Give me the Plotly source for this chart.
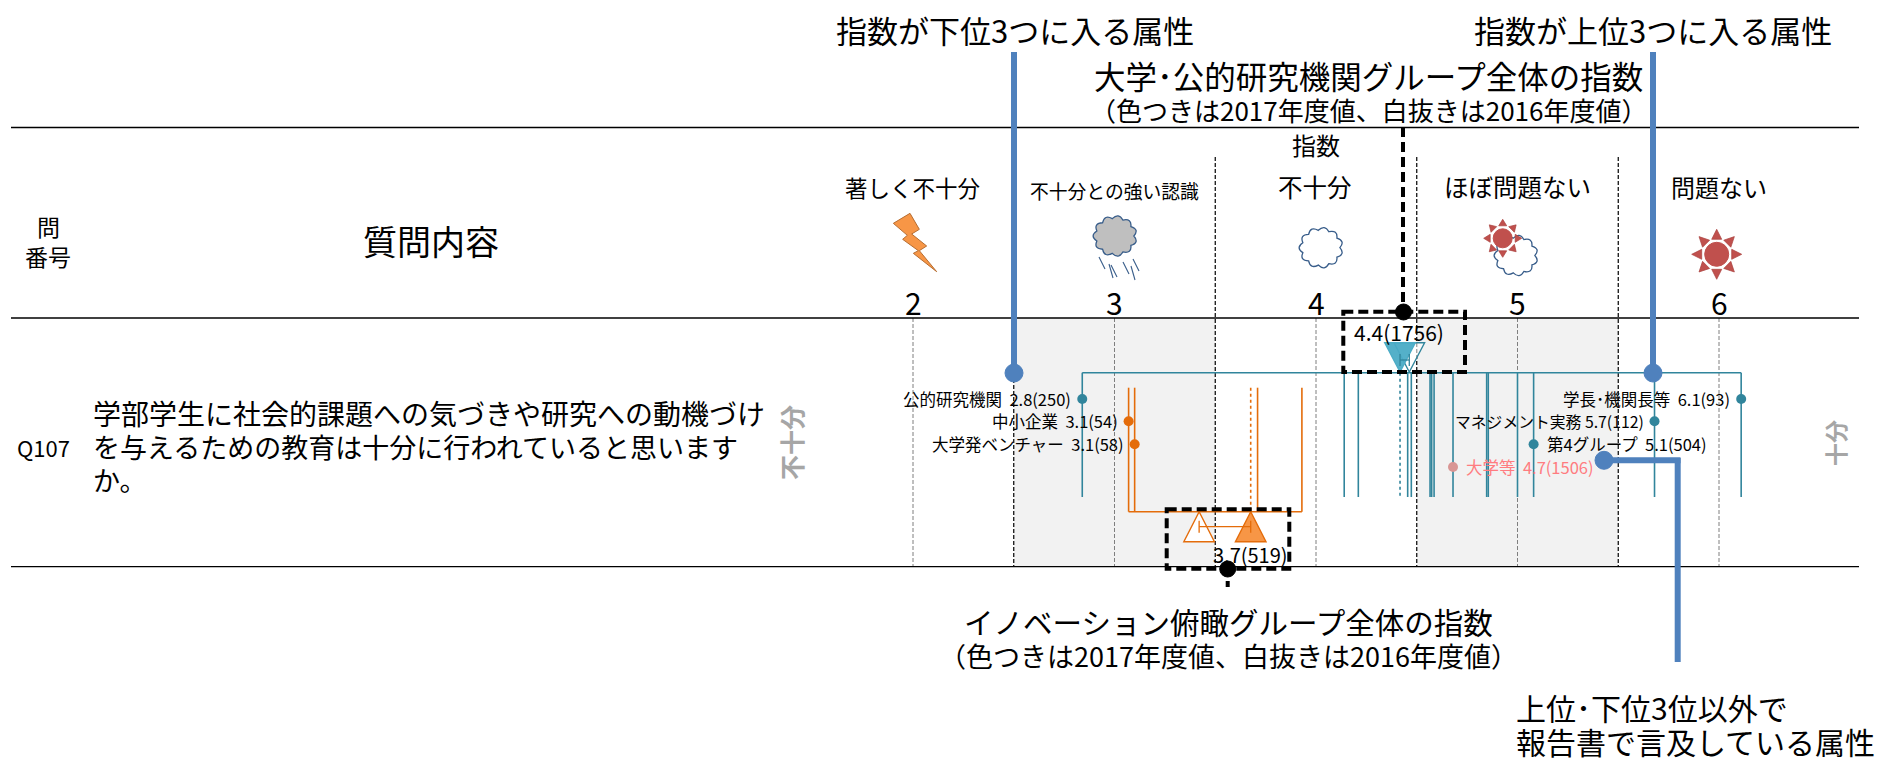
import math
import plotly.graph_objects as go

# the page body has an 8px margin, so the figure starts at screen (8, 8)
OFF = 8
W, H = 1879, 752
FONT = "Noto Sans CJK JP"

# scale ticks and band edges
tick_vals = [2, 3, 4, 5, 6]
band_edges = [2.5, 3.5, 4.5, 5.5]
shaded_bands = [(2.5, 3.5), (4.5, 5.5)]

# group 1 (teal): attribute values, dotted = group mean
teal_values = [2.84, 4.14, 4.21, 4.455, 4.473, 4.566, 4.574, 4.586, 4.68,
               4.847, 4.855, 5.0, 5.08, 5.68, 6.11]
teal_mean_2017 = 4.417
teal_mean_2016 = 4.463

# group 2 (orange)
orange_values = [3.07, 3.10, 3.71, 3.93]
orange_mean_2017 = 3.676
orange_mean_2016 = 3.42

# labelled attributes
teal_labels = ["公的研究機関  2.8(250)", "学長･機関長等  6.1(93)", "マネジメント実務 5.7(112)", "第4グループ  5.1(504)"]
teal_label_x = [2.84, 6.11, 5.68, 5.08]
orange_labels = ["中小企業  3.1(54)", "大学発ベンチャー  3.1(58)"]
orange_label_x = [3.07, 3.10]
pink_label = "大学等  4.7(1506)"
pink_x = 4.68

# score -> screen pixel is x_px = 913 + (v - 2) * 201.5
UNIT = 201.5
x_range = [2 + (OFF - 913) / UNIT, 2 + (OFF + W - 913) / UNIT]

TEAL = "#31859C"
TEAL_FILL = "#4BACC6"
ORANGE = "#E46C0A"
ORANGE_FILL = "#F79646"
BLUE = "#4F81BD"
DARKBLUE = "#385D8A"
RED = "#C0504D"


def px(x):
    return (x - OFF) / W


def py(y):
    return 1 - (y - OFF) / H


fig = go.Figure()
shapes = []
annots = []


def text(x, y, s, size, color="black", anchor="center", angle=0):
    annots.append(dict(x=px(x), y=py(y), xref="paper", yref="paper", text=s, showarrow=False,
                       xanchor=anchor, yanchor="middle", textangle=angle,
                       font=dict(family=FONT, size=size, color=color)))


def pline(x0, y0, x1, y1, color="black", width=1, dash="solid"):
    shapes.append(dict(type="line", xref="paper", yref="paper", x0=px(x0), y0=py(y0), x1=px(x1), y1=py(y1),
                       line=dict(color=color, width=width, dash=dash)))


def pcircle(cx, cy, r, color):
    shapes.append(dict(type="circle", xref="paper", yref="paper", x0=px(cx - r), x1=px(cx + r),
                       y0=py(cy - r), y1=py(cy + r), fillcolor=color, line=dict(color=color, width=1)))


def ppath(d, fill, color, width=1):
    shapes.append(dict(type="path", xref="paper", yref="paper", path=d, fillcolor=fill,
                       line=dict(color=color, width=width)))


def poly(points):
    return "M" + " L".join(f"{px(x):.5f},{py(y):.5f}" for x, y in points) + " Z"


def cloud(cx, cy, hw, hh, fill):
    # bumpy outline: quadratic lobes around an ellipse
    n = 11
    pts = [(cx + hw * 0.9 * math.cos(2 * math.pi * i / n), cy + hh * 0.9 * math.sin(2 * math.pi * i / n)) for i in range(n)]
    d = f"M{px(pts[0][0]):.5f},{py(pts[0][1]):.5f}"
    for i in range(n):
        a = 2 * math.pi * (i + 0.5) / n
        c = (cx + hw * 1.22 * math.cos(a), cy + hh * 1.22 * math.sin(a))
        e = pts[(i + 1) % n]
        d += f" Q{px(c[0]):.5f},{py(c[1]):.5f} {px(e[0]):.5f},{py(e[1]):.5f}"
    ppath(d + " Z", fill, DARKBLUE, 1.3)


def sun(cx, cy, r, tip, base):
    for i in range(8):
        a = math.pi * i / 4
        t = math.pi / 2 + a
        bx, by = cx + (r + 3) * math.cos(a), cy + (r + 3) * math.sin(a)
        ppath(poly([(cx + tip * math.cos(a), cy + tip * math.sin(a)),
                    (bx + base * math.cos(t), by + base * math.sin(t)),
                    (bx - base * math.cos(t), by - base * math.sin(t))]), RED, "#A9403D", 0.7)
    pcircle(cx, cy, r, RED)


# shaded bands + rules
ROW_TOP, ROW_BOTTOM = 318, 566.7
for a, b in shaded_bands:
    shapes.append(dict(type="rect", xref="x", yref="y", x0=a, x1=b, y0=ROW_TOP, y1=ROW_BOTTOM,
                       fillcolor="#F2F2F2", line=dict(width=0), layer="below"))
for y in [127.5, ROW_TOP, ROW_BOTTOM]:
    pline(11, y, 1859, y, "black", 1.3)


def seg_trace(xs, y0, y1, color, width, dash="solid"):
    sx, sy = [], []
    for v in xs:
        sx += [v, v, None]
        sy += [y0, y1, None]
    fig.add_trace(go.Scatter(x=sx, y=sy, mode="lines", line=dict(color=color, width=width, dash=dash),
                             hoverinfo="skip", showlegend=False))


seg_trace(tick_vals, ROW_TOP, ROW_BOTTOM, "#7F7F7F", 1, "4px,2px")
seg_trace(band_edges, 157, ROW_BOTTOM, "black", 1.2, "4px,2px")

# stems
TEAL_Y, TEAL_BOTTOM = 372.7, 497
ORANGE_Y, ORANGE_TOP = 511.7, 387.7
seg_trace(teal_values, TEAL_Y, TEAL_BOTTOM, TEAL, 1.6)
seg_trace([teal_mean_2017], TEAL_Y, TEAL_BOTTOM, TEAL, 1.6, "dot")
fig.add_trace(go.Scatter(x=[min(teal_values), max(teal_values)], y=[TEAL_Y, TEAL_Y], mode="lines",
                         line=dict(color=TEAL, width=1.6), hoverinfo="skip", showlegend=False))
seg_trace(orange_values, ORANGE_TOP, ORANGE_Y, ORANGE, 1.6)
seg_trace([orange_mean_2017], ORANGE_TOP, ORANGE_Y, ORANGE, 1.6, "dot")
fig.add_trace(go.Scatter(x=[min(orange_values), max(orange_values)], y=[ORANGE_Y, ORANGE_Y], mode="lines",
                         line=dict(color=ORANGE, width=1.6), hoverinfo="skip", showlegend=False))

# triangles for the group means (half width 15px, height 30px)
TRI = 15.3 / UNIT


def triangle(v, tip_y, base_y, fill, line):
    fig.add_trace(go.Scatter(x=[v, v - TRI, v + TRI, v], y=[tip_y, base_y, base_y, tip_y], mode="lines",
                             fill="toself", fillcolor=fill, line=dict(color=line, width=1.4),
                             hoverinfo="skip", showlegend=False))


def bracket(v0, v1, y, color):
    fig.add_trace(go.Scatter(x=[v0, v0, None, v0, v1, None, v1, v1], y=[y - 6, y + 6, None, y, y, None, y - 6, y + 6],
                             mode="lines", line=dict(color=color, width=1.3), hoverinfo="skip", showlegend=False))


triangle(teal_mean_2016, 372, 342.7, "rgba(255,255,255,0.6)", TEAL)
triangle(teal_mean_2017, 372, 342.7, "rgba(75,172,198,0.95)", TEAL_FILL)
bracket(teal_mean_2017, teal_mean_2016, 360, TEAL)
triangle(orange_mean_2016, 511.7, 541.7, "white", ORANGE)
triangle(orange_mean_2017, 511.7, 541.7, ORANGE_FILL, ORANGE)
bracket(orange_mean_2016, orange_mean_2017, 526.7, ORANGE)

# labelled dots
ROWS = [399, 421.3, 444.3, 467]
dot_y = [ROWS[0], ROWS[0], ROWS[1], ROWS[2]]
fig.add_trace(go.Scatter(x=teal_label_x, y=dot_y, mode="markers", marker=dict(color=TEAL, size=10),
                         hoverinfo="skip", showlegend=False))
fig.add_trace(go.Scatter(x=orange_label_x, y=ROWS[1:3], mode="markers", marker=dict(color=ORANGE, size=10),
                         hoverinfo="skip", showlegend=False))
fig.add_trace(go.Scatter(x=[pink_x], y=[ROWS[3]], mode="markers", marker=dict(color="#D99694", size=10),
                         hoverinfo="skip", showlegend=False))

LABEL = 16.5
for v, s, y in zip(teal_label_x, teal_labels, dot_y):
    x_px = 913 + (v - 2) * UNIT
    if s.startswith("第4"):
        text(x_px + 11, y, s, LABEL, anchor="left")
    elif s.startswith("マネ"):
        text(x_px - 9, y, s, 15.8, anchor="right")
    else:
        text(x_px - 9, y, s, LABEL, anchor="right")
for v, s, y in zip(orange_label_x, orange_labels, ROWS[1:3]):
    text(913 + (v - 2) * UNIT - 9, y, s, LABEL, anchor="right")
text(913 + (pink_x - 2) * UNIT + 11, ROWS[3], pink_label, LABEL, color="#FF7C80", anchor="left")

# blue callouts
pline(1014, 52, 1014, 372, BLUE, 6)
pcircle(1014, 373, 9, BLUE)
pline(1653, 52, 1653, 372, BLUE, 6)
pcircle(1653, 373, 9, BLUE)
pline(1604, 460.3, 1680.5, 460.3, BLUE, 6)
pline(1677.7, 458, 1677.7, 662, BLUE, 6)
pcircle(1604, 460.3, 9, BLUE)

# dashed boxes around group means
DASH = "10px,5px"
shapes.append(dict(type="rect", xref="paper", yref="paper", x0=px(1343.3), x1=px(1465), y0=py(311.7), y1=py(372),
                   line=dict(color="black", width=4, dash=DASH)))
shapes.append(dict(type="rect", xref="paper", yref="paper", x0=px(1166.7), x1=px(1289.3), y0=py(509.3), y1=py(568.7),
                   line=dict(color="black", width=4, dash=DASH)))
pline(1403, 127, 1403, 312, "black", 4, DASH)
pcircle(1403.5, 312, 8, "black")
pcircle(1227.7, 569, 8, "black")
pline(1227.7, 569, 1227.7, 590, "black", 4, "6px,6px")

# icons
ppath(poly([(x / 3 + 820, y / 3 + 120) for x, y in
            [(220, 310), (270, 280), (298, 328), (275, 342), (320, 378), (298, 392), (350, 455),
             (280, 400), (295, 392), (248, 358), (262, 346)]]), ORANGE_FILL, "#B66D31", 1)
cloud(1115, 236, 21, 19.5, "#BFBFBF")
for x, y in [(1102, 263), (1114, 271), (1126, 268), (1136, 265)]:
    pline(x - 3, y - 6, x + 3, y + 6, DARKBLUE, 1.1)
for x, y in [(1111, 270), (1133, 272)]:
    pline(x - 2, y - 6, x + 2, y + 8, DARKBLUE, 1.1)
cloud(1321, 247.7, 21, 19.5, "white")
cloud(1516, 255.5, 21, 19.5, "white")
sun(1502.7, 238.3, 9.5, 19, 4)
sun(1716.7, 254.3, 12, 25, 5)

# header text
text(912.7, 186.7, "著しく不十分", 22.5)
text(1114, 190, "不十分との強い認識", 18.8)
text(1316, 145, "指数", 24)
text(1315, 186.7, "不十分", 24.5)
text(1517, 186.7, "ほぼ問題ない", 24.5)
text(1718.7, 186.7, "問題ない", 24)
for v in tick_vals:
    text(913 + (v - 2) * UNIT, 302, str(v), 30)

text(48, 226, "問", 23)
text(48, 256.5, "番号", 23)
text(430.6, 240.7, "質問内容", 34)
text(43, 446.7, "Q107", 22)
text(90.5, 413, "学部学生に社会的課題への気づきや研究への動機づけ", 28, anchor="left")
text(90.5, 446.7, "を与えるための教育は十分に行われていると思います", 27, anchor="left")
text(90.5, 479, "か。", 27, anchor="left")
text(791, 443, "<b>不十分</b>", 25, color="#A6A6A6", angle=-90)
text(1835, 443, "<b>十分</b>", 23, color="#A6A6A6", angle=-90)

# value labels for the two groups
text(1399, 331.7, "4.4(1756)", 21)
text(1250, 554, "3.7(519)", 20)

# callout text
text(1015, 29, "指数が下位3つに入る属性", 31)
text(1653, 29, "指数が上位3つに入る属性", 31)
text(1368, 75, "大学･公的研究機関グループ全体の指数", 31.5)
text(1368, 110, "（色つきは2017年度値、白抜きは2016年度値）", 26)
text(1228, 621, "イノベーション俯瞰グループ全体の指数", 29.5)
text(1228, 655, "（色つきは2017年度値、白抜きは2016年度値）", 27)
text(1514, 707, "上位･下位3位以外で", 30, anchor="left")
text(1514, 741, "報告書で言及している属性", 30, anchor="left")

fig.update_layout(
    width=W, height=H, autosize=False,
    margin=dict(l=0, r=0, t=0, b=0, pad=0),
    paper_bgcolor="white", plot_bgcolor="white",
    xaxis=dict(range=x_range, visible=False, fixedrange=True),
    yaxis=dict(range=[OFF + H, OFF], visible=False, fixedrange=True),
    shapes=shapes, annotations=annots, showlegend=False,
)

fig.write_html("out.html")
